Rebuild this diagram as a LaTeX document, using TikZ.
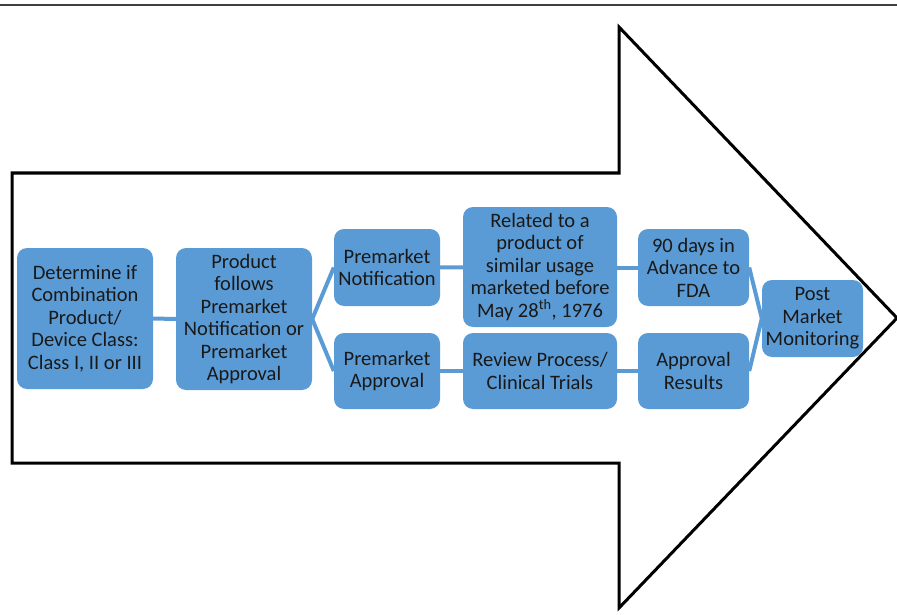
\documentclass[tikz,border=0pt]{standalone}
\usepackage{fontspec}
\setmainfont{Carlito}
\usepackage{xcolor}
\usetikzlibrary{calc}
\definecolor{boxblue}{RGB}{91,155,213}

\begin{document}
\begin{tikzpicture}[x=1pt,y=-1pt]
%
\tikzstyle{stage}=[fill=boxblue,shape=rectangle,rounded corners=10pt,align=center,inner sep=0pt,text=black!90,font=\fontsize{20.5}{22.5}\selectfont]
\tikzstyle{link}=[draw=boxblue,line width=4pt]
%
\useasboundingbox (0,0) rectangle (897,615);
\draw[black!75,line width=1.5pt] (0,5) -- (897,5);
\draw[line width=3pt,line join=miter] (12,173) -- (619,173) -- (619,27) -- (897,318) -- (619,608) -- (619,463) -- (12,463) -- cycle;
%
\node[stage,minimum width=136pt,minimum height=141pt](cls) at (85,318.5){Determine if\\Combination\\Product/\\Device Class:\\Class I, II or III};
\node[stage,minimum width=136pt,minimum height=142pt](pth) at (244,319){Product\\follows\\Premarket\\Notification or\\Premarket\\Approval};
%
\node[stage,minimum width=106pt,minimum height=77pt](pn) at (387,267.5){Premarket\\Notification};
\node[stage,minimum width=106pt,minimum height=76pt](pa) at (387,371){Premarket\\Approval};
%
\node[stage,minimum width=154pt,minimum height=120pt](rel) at (540,267){Related to a\\product of\\similar usage\\marketed before\\May 28\textsuperscript{th}, 1976};
\node[stage,minimum width=154pt,minimum height=76pt](rev) at (540,371){Review Process/\\Clinical Trials};
%
\node[stage,minimum width=111pt,minimum height=77pt](adv) at (693.5,267.5){90 days in\\Advance to\\FDA};
\node[stage,minimum width=111pt,minimum height=76pt](res) at (693.5,371){Approval\\Results};
%
\node[stage,minimum width=101pt,minimum height=77pt](pmm) at (812.5,318.5){Post\\Market\\Monitoring};
%
\draw[link] (cls) -- (pth);
\draw[link] (pth.east) -- (pn.west);
\draw[link] (pth.east) -- (pa.west);
\draw[link] (pn) -- (rel);
\draw[link] (pa) -- (rev);
\draw[link] (rel.east |- adv.west) -- (adv.west);
\draw[link] (rev) -- (res);
\draw[link] (adv.east) -- (pmm.west);
\draw[link] (res.east) -- (pmm.west);
\end{tikzpicture}
\end{document}
